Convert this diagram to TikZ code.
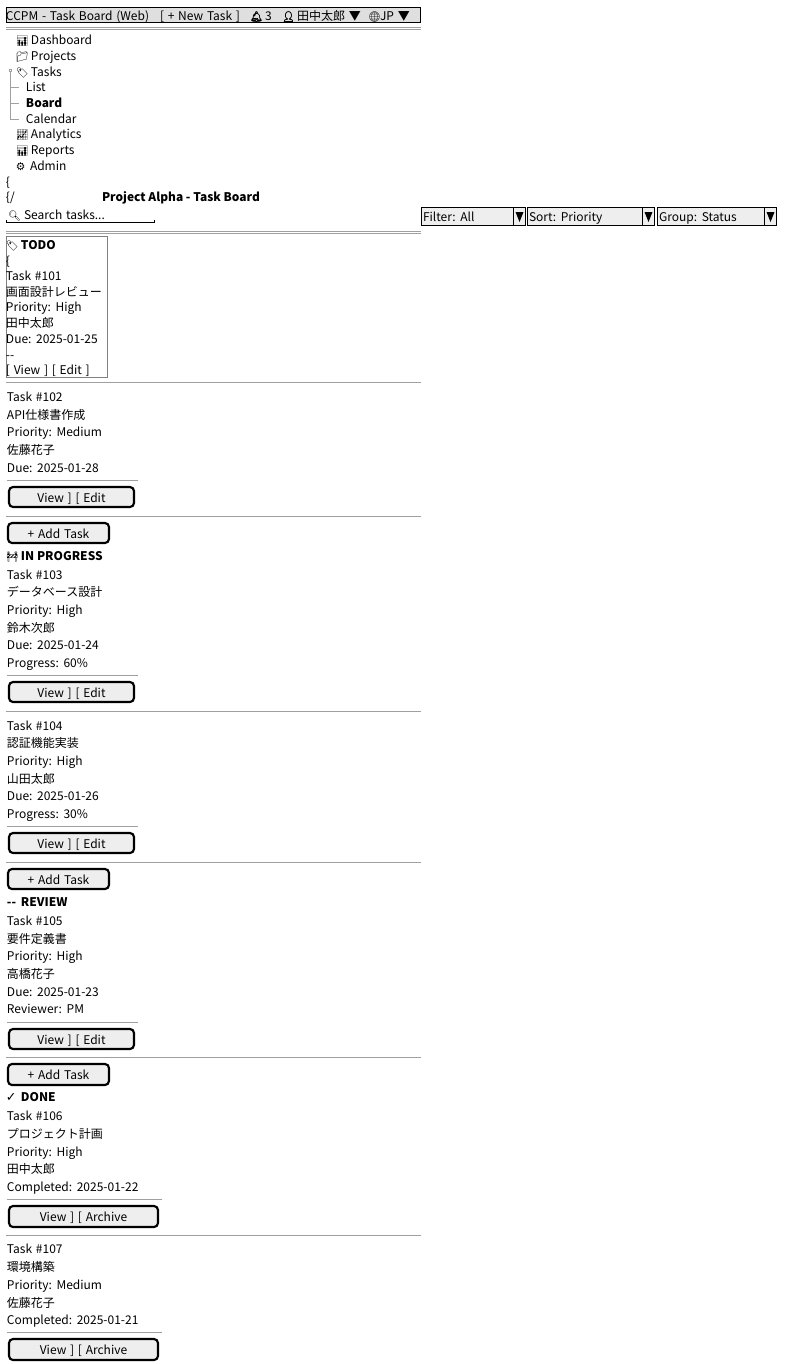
\documentclass[tikz,border=0pt]{standalone}
\usepackage{fontspec}
\setmainfont[WordSpace=1.4,BoldFeatures={WordSpace=1}]{Noto Sans CJK JP}
\newfontfamily\emo{Noto Emoji}
\newfontfamily\emob[FakeBold=2.5]{Noto Emoji}
\newfontfamily\djv{DejaVu Sans}
\definecolor{panel}{HTML}{EEEEEE}
\definecolor{barfill}{HTML}{DFDFDF}
\definecolor{rule}{HTML}{A0A0A0}
\tikzset{
 x=0.75pt,y=-0.75pt,
 txt/.style={anchor=base west,inner sep=0pt,outer sep=0pt,font=\fontsize{9pt}{11pt}\selectfont,text=black},
 boldtxt/.style={txt,font=\fontsize{8.95pt}{11pt}\selectfont\bfseries},
 ico/.style={anchor=base west,inner sep=0pt,outer sep=0pt,font=\fontsize{7.6pt}{10pt}\emo},
 icob/.style={ico,font=\fontsize{7.6pt}{10pt}\emob},
 ctr/.style={anchor=base,inner sep=0pt,outer sep=0pt,font=\fontsize{9pt}{11pt}\selectfont,text=black},
 sep/.style={draw=rule,line width=0.75pt},
 hair/.style={draw=rule,line width=0.75pt},
 btn/.style={draw=black,fill=panel,line width=1.6pt,rounded corners=3pt},
 sel/.style={draw=black,fill=panel,line width=0.75pt},
 topbar/.style={draw=black,fill=barfill,line width=1pt},
 arr/.style={fill=black,draw=none},
 tree/.style={draw=rule,line width=0.6pt},
}
\begin{document}
\begin{tikzpicture}
\useasboundingbox (0,0) rectangle (790,1364);
% top bar
\draw[topbar] (6.5,7.5) rectangle (420.5,22.5);
\node[txt] (title) at (6,20) {CCPM - Task Board (Web)};
\node[txt] (newtask) at (160,20) {[ + New Task ]};
\node[icob] (bell) at (250,20) {🔔};
\node[txt] (bellnum) at (265,20) {3};
\node[icob] (user) at (282,20) {👤};
\node[txt] (uname) at (297,20) {田中太郎 ▼};
\node[ico] (globe) at (368,20) {🌐};
\node[txt] (lang) at (380,20) {JP ▼};
\coordinate (r1a) at (6,27.5); \coordinate (r1b) at (421,27.5);
\coordinate (r2a) at (6,29.5); \coordinate (r2b) at (421,29.5);
\draw[sep] (r1a) -- (r1b); \draw[sep] (r2a) -- (r2b);
% nav
\node[ico] (i1) at (16,44) {📊}; \node[txt] (n1) at (31,44) {Dashboard};
\node[ico] (i2) at (16,60) {📁}; \node[txt] (n2) at (31,60) {Projects};
\node[ico] (i3) at (16,76) {🏷}; \node[txt] (n3) at (31,76) {Tasks};
\node[txt] (n4) at (26,91) {List};
\node[boldtxt] (n5) at (26,107) {Board};
\node[txt] (n6) at (26,123) {Calendar};
\node[ico] (i7) at (16,138) {📈}; \node[txt] (n7) at (31,138) {Analytics};
\node[ico] (i8) at (16,154) {📊}; \node[txt] (n8) at (31,154) {Reports};
\node[ico,font=\fontsize{8pt}{10pt}\djv] (i9) at (16,170) {⚙}; \node[txt] (n9) at (30,170) {Admin};
\coordinate (t0) at (10.5,72); \coordinate (t1) at (10.5,119.5);
\coordinate (t2) at (19,87.5); \coordinate (t3) at (10.5,87.5);
\coordinate (t4) at (19,103.5); \coordinate (t5) at (10.5,103.5);
\coordinate (t6) at (19,119.5);
\draw[tree] (t0) -- (t1) -- (t6); \draw[tree] (t3) -- (t2); \draw[tree] (t5) -- (t4);
\draw[tree,fill=white] (9.3,69.3) rectangle (11.7,71.7);
\node[txt] (b1) at (6,186) {\{};
\node[txt] (b2) at (6,201) {\{/};
\node[boldtxt] (ptitle) at (102,201) {Project Alpha - Task Board};
% search
\node[ico] (si) at (8,219) {🔍};
\node[txt] (search) at (24,219) {Search tasks...};
\draw[black,line width=0.75pt] (6.5,220) -- (6.5,222.5) -- (154.5,222.5) -- (154.5,220);
% selects
\foreach \a/\b/\t in {421.5/525.5/Filter: All,527.5/654.5/Sort: Priority,657.5/776.5/Group: Status}{
 \draw[sel] (\a,207.5) rectangle (\b,225.5);
 \draw[black,line width=0.75pt] ({\b-12},207.5) -- ({\b-12},225.5);
 \fill[arr] ({\b-10},212) -- ({\b-2},212) -- ({\b-6},222) -- cycle;
 \node[txt] at ({\a+1.5},221) {\t};
}
\draw[sep] (6,231.5) -- (421,231.5); \draw[sep] (6,233.5) -- (421,233.5);
% TODO
\draw[draw=gray,line width=0.75pt] (6.5,236.5) rectangle (107.5,377.5);
\node[ico] (ti) at (6,249) {🏷}; \node[boldtxt] (todo) at (21,249) {TODO};
\node[txt] (br) at (6,265) {\{};
\node[txt] (t101) at (6,280) {Task \#101};
\node[txt] at (6,296) {画面設計レビュー};
\node[txt] at (6,311) {Priority: High};
\node[txt] at (6,327) {田中太郎};
\node[txt] at (6,343) {Due: 2025-01-25};
\node[txt] at (6,359) {{-}{-}};
\node[txt] at (6,374) {[ View ] [ Edit ]};
\draw[sep] (6,382.5) -- (421,382.5);
% 102
\node[txt] (t102) at (7,401) {Task \#102};
\node[txt] at (7,419) {API仕様書作成};
\node[txt] at (7,436) {Priority: Medium};
\node[txt] at (7,454) {佐藤花子};
\node[txt] at (7,472) {Due: 2025-01-28};
\draw[hair] (7,480.5) -- (138,480.5);
\draw[btn] (9,487) rectangle (134,507);
\node[ctr] at (71.5,502) {View ] [ Edit};
\draw[sep] (6,516.5) -- (421,516.5);
\draw[btn] (8,523) rectangle (109,543);
\node[ctr] at (58.5,538) {+ Add Task};
% in progress
\node[ico] (pi) at (6,560) {🚧}; \node[boldtxt] (prog) at (21,560) {IN PROGRESS};
\node[txt] (t103) at (7,579) {Task \#103};
\node[txt] at (7,596) {データベース設計};
\node[txt] at (7,614) {Priority: High};
\node[txt] at (7,632) {鈴木次郎};
\node[txt] at (7,649) {Due: 2025-01-24};
\node[txt] at (7,667) {Progress: 60\%};
\draw[hair] (7,675.5) -- (138,675.5);
\draw[btn] (9,682) rectangle (134,702);
\node[ctr] at (71.5,697) {View ] [ Edit};
\draw[sep] (6,711.5) -- (421,711.5);
\node[txt] (t104) at (7,730) {Task \#104};
\node[txt] at (7,747) {認証機能実装};
\node[txt] at (7,765) {Priority: High};
\node[txt] at (7,783) {山田太郎};
\node[txt] at (7,800) {Due: 2025-01-26};
\node[txt] at (7,818) {Progress: 30\%};
\draw[hair] (7,826.5) -- (138,826.5);
\draw[btn] (9,833) rectangle (134,853);
\node[ctr] at (71.5,848) {View ] [ Edit};
\draw[sep] (6,862.5) -- (421,862.5);
\draw[btn] (8,869) rectangle (109,889);
\node[ctr] at (58.5,884) {+ Add Task};
% review
\node[boldtxt] (ri) at (7,906) {{-}{-}}; \node[boldtxt] (rev) at (21,906) {REVIEW};
\node[txt] (t105) at (7,925) {Task \#105};
\node[txt] at (7,943) {要件定義書};
\node[txt] at (7,960) {Priority: High};
\node[txt] at (7,978) {高橋花子};
\node[txt] at (7,996) {Due: 2025-01-23};
\node[txt] at (7,1013) {Reviewer: PM};
\draw[hair] (7,1022.5) -- (138,1022.5);
\draw[btn] (9,1029) rectangle (134,1049);
\node[ctr] at (71.5,1044) {View ] [ Edit};
\draw[sep] (6,1057.5) -- (421,1057.5);
\draw[btn] (8,1064) rectangle (109,1085);
\node[ctr] at (58.5,1079) {+ Add Task};
% done
\node[ico,font=\fontsize{9.5pt}{10pt}\djv] (di) at (6,1101) {✓}; \node[boldtxt] (done) at (21,1101) {DONE};
\node[txt] (t106) at (7,1120) {Task \#106};
\node[txt] at (7,1138) {プロジェクト計画};
\node[txt] at (7,1156) {Priority: High};
\node[txt] at (7,1173) {田中太郎};
\node[txt] at (7,1191) {Completed: 2025-01-22};
\draw[hair] (7,1199.5) -- (162,1199.5);
\draw[btn] (9,1206) rectangle (158,1227);
\node[ctr] at (83.5,1221) {View ] [ Archive};
\draw[sep] (6,1235.5) -- (421,1235.5);
\node[txt] (t107) at (7,1253) {Task \#107};
\node[txt] at (7,1271) {環境構築};
\node[txt] at (7,1289) {Priority: Medium};
\node[txt] at (7,1307) {佐藤花子};
\node[txt] at (7,1324) {Completed: 2025-01-21};
\draw[hair] (7,1332.5) -- (162,1332.5);
\draw[btn] (9,1339) rectangle (158,1360);
\node[ctr] at (83.5,1354) {View ] [ Archive};
\end{tikzpicture}
\end{document}
